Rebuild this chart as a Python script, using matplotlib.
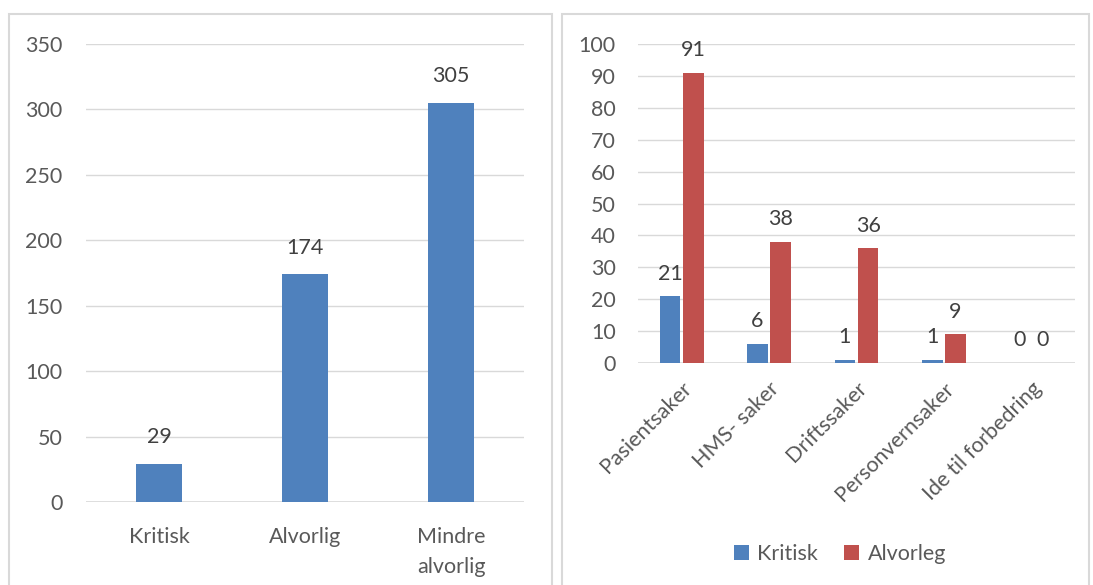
import matplotlib.pyplot as plt
from matplotlib.patches import Rectangle

# Data
alvor_kategorier = ["Kritisk", "Alvorlig", "Mindre\nalvorlig"]
alvor_antall = [29, 174, 305]

sakstyper = ["Pasientsaker", "HMS- saker", "Driftssaker", "Personvernsaker", "Ide til forbedring"]
kritisk = [21, 6, 1, 1, 0]
alvorleg = [91, 38, 36, 9, 0]

blue = "#4f81bd"
red = "#c0504d"
text_col = "#595959"
grid_col = "#d9d9d9"
fs = 15.5

plt.rcParams["font.family"] = ["Lato", "DejaVu Sans"]
plt.rcParams["font.size"] = fs

W, H = 1093, 585
fig = plt.figure(figsize=(W / 100, H / 100), dpi=100)

# Panel frames
for x0, x1 in [(9, 552), (562, 1089)]:
    fig.patches.append(Rectangle((x0 / W, -0.01), (x1 - x0) / W, (H - 14) / H + 0.01,
                                 transform=fig.transFigure, fill=False,
                                 edgecolor=grid_col, linewidth=1.5))


def style(ax):
    for s in ax.spines.values():
        s.set_visible(False)
    ax.yaxis.grid(True, color=grid_col, linewidth=1)
    ax.set_axisbelow(True)
    ax.tick_params(length=0, colors=text_col, labelsize=fs)
    ax.axhline(0, color=grid_col, linewidth=1.2, zorder=1)


# Left chart
ax1 = fig.add_axes([86 / W, 1 - 502 / H, (524 - 86) / W, (502 - 44) / H])
x = range(len(alvor_kategorier))
bars = ax1.bar(x, alvor_antall, width=0.315, color=blue, zorder=2)
ax1.set_xlim(-0.5, 2.5)
ax1.set_ylim(0, 350)
ax1.set_yticks(range(0, 351, 50))
ax1.set_xticks(list(x))
ax1.set_xticklabels(alvor_kategorier, linespacing=1.65)
style(ax1)
ax1.tick_params(axis="y", pad=17)
ax1.tick_params(axis="x", pad=18)
for b, v in zip(bars, alvor_antall):
    ax1.annotate(str(v), (b.get_x() + b.get_width() / 2, v), xytext=(0, 12),
                 textcoords="offset points", ha="center", va="bottom",
                 color="#404040", fontsize=fs)

# Right chart
ax2 = fig.add_axes([638 / W, 1 - 363 / H, (1075 - 638) / W, (363 - 44) / H])
xs = list(range(len(sakstyper)))
bw = 0.235
b1 = ax2.bar([i - bw / 2 - 0.015 for i in xs], kritisk, width=bw, color=blue,
             zorder=2, label="Kritisk")
b2 = ax2.bar([i + bw / 2 + 0.015 for i in xs], alvorleg, width=bw, color=red,
             zorder=2, label="Alvorleg")
ax2.set_xlim(-0.5, 4.5)
ax2.set_ylim(0, 100)
ax2.set_yticks(range(0, 101, 10))
ax2.set_xticks(xs)
ax2.set_xticklabels(sakstyper, rotation=45, ha="right", rotation_mode="anchor")
style(ax2)
ax2.tick_params(axis="y", pad=16)
ax2.tick_params(axis="x", pad=11)
for bars_, vals in [(b1, kritisk), (b2, alvorleg)]:
    for b, v in zip(bars_, vals):
        ax2.annotate(str(v), (b.get_x() + b.get_width() / 2, v), xytext=(0, 9),
                     textcoords="offset points", ha="center", va="bottom",
                     color="#404040", fontsize=fs)

leg = fig.legend(handles=[b1, b2], loc="center", bbox_to_anchor=(840 / W, 1 - 554 / H),
                 ncol=2, frameon=False, handlelength=0.7, handleheight=0.7,
                 handletextpad=0.4, columnspacing=1.2, fontsize=fs)
for t in leg.get_texts():
    t.set_color(text_col)

fig.savefig("out.png", dpi=100)
